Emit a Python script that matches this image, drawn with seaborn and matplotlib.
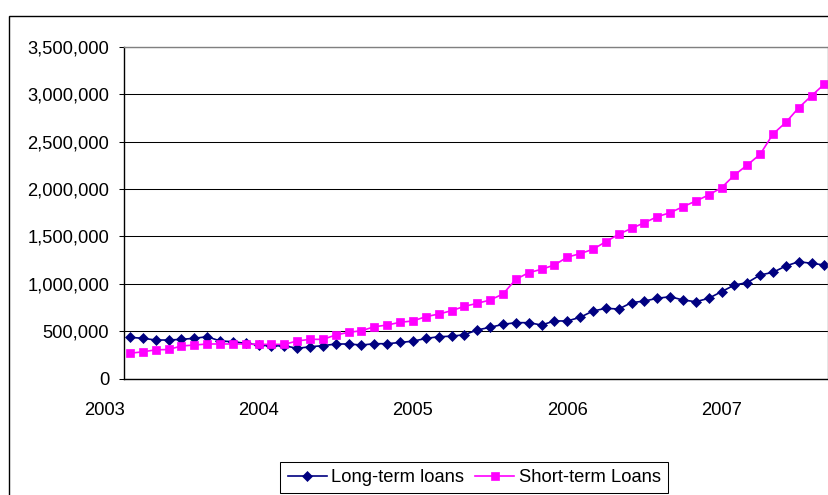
import numpy as np
import pandas as pd
import matplotlib
matplotlib.use("Agg")
import matplotlib.pyplot as plt
import matplotlib.transforms as mtransforms
from matplotlib.patches import Rectangle
from matplotlib.ticker import StrMethodFormatter
import seaborn as sns

# ---------------- data ----------------
months = pd.period_range("2003-03", "2007-09", freq="M")

long_term = [434, 424, 406, 406, 413, 424, 441, 396, 388, 371,
             353, 343, 346, 318, 335, 346, 364, 364, 353, 367,
             367, 380, 394, 422, 441, 446, 462, 512, 540, 571,
             589, 589, 564, 607, 607, 645, 712, 740, 733, 800,
             817, 846, 863, 828, 810, 846, 916, 986, 1011, 1092,
             1120, 1187, 1232, 1215, 1197]
long_term = [v * 1000 for v in long_term]

short_term = [266, 282, 302, 306, 343, 353, 364, 364, 364, 364,
              360, 360, 360, 396, 413, 413, 459, 487, 504, 546,
              564, 593, 607, 652, 680, 715, 761, 793, 828, 891,
              1046, 1116, 1152, 1197, 1280, 1317, 1363, 1443, 1521, 1584,
              1643, 1707, 1749, 1812, 1872, 1936, 2013, 2146, 2252, 2365,
              2579, 2702, 2856, 2983, 3106]
short_term = [v * 1000 for v in short_term]

year_labels = ["2003", "2004", "2005", "2006", "2007"]
y_ticks = [0, 500000, 1000000, 1500000, 2000000, 2500000, 3000000, 3500000]
series_names = ["Long-term loans", "Short-term Loans"]

# month index relative to Jan 2003
x_pos = [(p.year - 2003) * 12 + p.month - 1 for p in months]
year_pos = [(int(y) - 2003) * 12 for y in year_labels]

df = pd.DataFrame({"x": x_pos, "long": long_term, "short": short_term})

# ---------------- style ----------------
plt.rcParams["font.family"] = ["Liberation Sans", "DejaVu Sans"]
FS = 13.25

W, H = 829, 495
fig = plt.figure(figsize=(W / 100, H / 100), dpi=100)
left_px, right_px, top_px, bottom_px = 124.3, 828.3, 46.7, 378.5
ax = fig.add_axes([left_px / W, 1 - bottom_px / H,
                   (right_px - left_px) / W, (bottom_px - top_px) / H])

sns.lineplot(data=df, x="x", y="long", ax=ax, color="#000080",
             marker="D", markersize=5.0, markeredgecolor="#000080",
             markeredgewidth=0.5, linewidth=1.2, label=series_names[0])
sns.lineplot(data=df, x="x", y="short", ax=ax, color="#FF00FF",
             marker="s", markersize=5.8, markeredgecolor="#FF00FF",
             markeredgewidth=0.5, linewidth=1.2, label=series_names[1])

ax.set_xlim(1.555, 56.3)
ax.set_ylim(0, 3500000)
ax.set_yticks(y_ticks)
ax.yaxis.set_major_formatter(StrMethodFormatter("{x:,.0f}"))
ax.grid(axis="y", color="black", linewidth=0.75)
ax.grid(axis="x", visible=False)
ax.set_axisbelow(True)
ax.set_xlabel("")
ax.set_ylabel("")

for s in ["left", "bottom"]:
    ax.spines[s].set_color("black")
    ax.spines[s].set_linewidth(1.0)
for s in ["top", "right"]:
    ax.spines[s].set_color("#808080")
    ax.spines[s].set_linewidth(1.0)

ax.tick_params(axis="y", length=3.8, width=0.75, pad=7, labelsize=FS,
               direction="out", colors="black")
XPAD = 17
ax.tick_params(axis="x", length=0, pad=XPAD, labelsize=FS, colors="black")

xmin, xmax = ax.get_xlim()
in_pos = [p for p in year_pos if xmin <= p <= xmax]
in_lab = [l for p, l in zip(year_pos, year_labels) if xmin <= p <= xmax]
ax.set_xticks(in_pos)
ax.set_xticklabels(in_lab)
blend = mtransforms.blended_transform_factory(ax.transData, ax.transAxes)
off = mtransforms.offset_copy(blend, fig=fig, y=-XPAD, units="points")
for p, l in zip(year_pos, year_labels):
    if not (xmin <= p <= xmax):
        ax.text(p, 0, l, transform=off, ha="center", va="top",
                fontsize=FS, color="black", clip_on=False)

# legend
handles, labels = ax.get_legend_handles_labels()
ax.get_legend().remove()
leg = fig.legend(handles, labels, loc="upper left",
                 bbox_to_anchor=(280.3 / W, 1 - 461.7 / H),
                 ncol=2, frameon=True, fancybox=False, edgecolor="black",
                 framealpha=1, borderaxespad=0, borderpad=0.4,
                 handlelength=2.12, handletextpad=0.25, columnspacing=0.6,
                 fontsize=FS)
leg.get_frame().set_linewidth(0.75)

# outer chart frame (extends beyond the image on right and bottom)
fig.patches.append(Rectangle((9.3 / W, -0.2), 1.5, (1 - 15.7 / H) + 0.2,
                             transform=fig.transFigure, fill=False,
                             edgecolor="black", linewidth=1.0, zorder=0))

fig.savefig("out.png", dpi=100, facecolor="white")
